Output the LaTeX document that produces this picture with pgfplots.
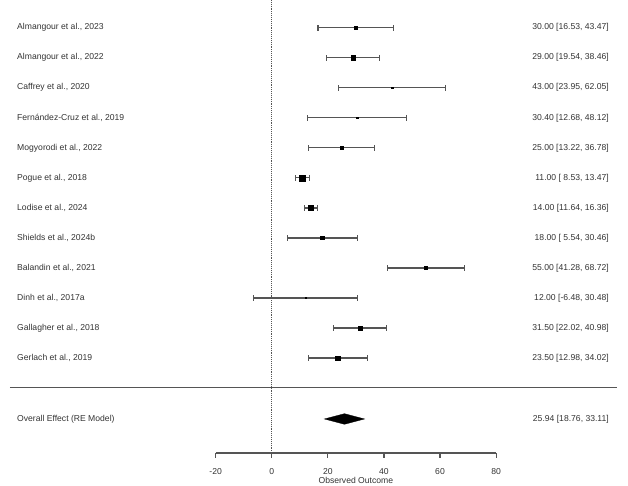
\documentclass[border=0pt]{standalone}
\usepackage{fontspec}
\setmainfont{Liberation Sans}
\usepackage{pgfplots}
\pgfplotsset{compat=1.18}
\usepackage{pgfplotstable}
\definecolor{txt}{HTML}{333333}
\definecolor{ln}{HTML}{555555}
\newcommand\f{\fontsize{8.6pt}{10pt}\selectfont}

\pgfplotstableread{
row est lo hi
1  30.00 16.53 43.47
2  29.00 19.54 38.46
3  43.00 23.95 62.05
4  30.40 12.68 48.12
5  25.00 13.22 36.78
6  11.00 8.53 13.47
7  14.00 11.64 16.36
8  18.00 5.54 30.46
9  55.00 41.28 68.72
10 12.00 -6.48 30.48
11 31.50 22.02 40.98
12 23.50 12.98 34.02
}\studies

\begin{document}
\begin{tikzpicture}[font=\f]
\useasboundingbox (0,0) rectangle (628pt,486pt);
\begin{axis}[
  at={(0,33pt)}, anchor=south west,
  scale only axis, width=628pt, height=453pt,
  xmin=-96.86, xmax=127.02,
  ymin=0.0776, ymax=15.163, y dir=reverse,
  axis x line=bottom, axis y line=none,
  x axis line style={draw=none},
  xtick={-20,0,20,40,60,80},
  xticklabels={-20,0,20,40,60,80},
  tick align=outside, major tick length=4.5pt,
  major tick style={draw=ln, line width=1.2pt},
  xticklabel style={font=\f, text=txt, yshift=-7pt},
  /pgf/number format/assume math mode=true,
  clip=false,
]
% reference line
\addplot[ln, densely dotted, line width=0.9pt] coordinates {(0,0.0776) (0,15.163)};
% separator
\addplot[ln, line width=1.4pt] coordinates {(-93.3,12.99) (123.1,12.99)};
% bottom axis line
\addplot[ln, line width=1.3pt] coordinates {(-20,15.163) (80,15.163)};
% CIs
\addplot[draw=none, mark=none, error bars/.cd, x dir=both, x explicit,
  error bar style={ln, line width=1.3pt}, error mark=|, error mark options={ln, line width=1.2pt, mark size=2.9pt}]
  table[x=est, y=row, x error expr={(\thisrow{hi}-\thisrow{lo})/2}] {\studies};
% squares (size ~ study weight)
\pgfplotsset{sq/.style={only marks, mark=square*, mark options={draw=none, fill=black}}}
\addplot[sq, mark size=1.7pt] coordinates {(30.00,1)};
\addplot[sq, mark size=2.2pt] coordinates {(29.00,2)};
\addplot[sq, mark size=0.7pt] coordinates {(43.00,3)};
\addplot[sq, mark size=0.8pt] coordinates {(30.40,4)};
\addplot[sq, mark size=1.6pt] coordinates {(25.00,5)};
\addplot[sq, mark size=2.9pt] coordinates {(11.00,6)};
\addplot[sq, mark size=2.6pt] coordinates {(14.00,7)};
\addplot[sq, mark size=1.6pt] coordinates {(18.00,8)};
\addplot[sq, mark size=1.4pt] coordinates {(55.00,9)};
\addplot[sq, mark size=0.65pt] coordinates {(12.00,10)};
\addplot[sq, mark size=2.1pt] coordinates {(31.50,11)};
\addplot[sq, mark size=2.1pt] coordinates {(23.50,12)};
% diamond
\addplot[fill=black, draw=black, line width=0.3pt] coordinates {(18.76,14.03) (25.94,13.853) (33.11,14.03) (25.94,14.207)} -- cycle;
% labels
\begin{scope}[text=txt, every node/.style={inner sep=0pt}]
\node[anchor=west] at (axis cs:-90.8,1) {Almangour et al., 2023};
\node[anchor=west] at (axis cs:-90.8,2) {Almangour et al., 2022};
\node[anchor=west] at (axis cs:-90.8,3) {Caffrey et al., 2020};
\node[anchor=west] at (axis cs:-90.8,4) {Fernández-Cruz et al., 2019};
\node[anchor=west] at (axis cs:-90.8,5) {Mogyorodi et al., 2022};
\node[anchor=west] at (axis cs:-90.8,6) {Pogue et al., 2018};
\node[anchor=west] at (axis cs:-90.8,7) {Lodise et al., 2024};
\node[anchor=west] at (axis cs:-90.8,8) {Shields et al., 2024b};
\node[anchor=west] at (axis cs:-90.8,9) {Balandin et al., 2021};
\node[anchor=west] at (axis cs:-90.8,10) {Dinh et al., 2017a};
\node[anchor=west] at (axis cs:-90.8,11) {Gallagher et al., 2018};
\node[anchor=west] at (axis cs:-90.8,12) {Gerlach et al., 2019};
\node[anchor=west] at (axis cs:-90.8,14.03) {Overall Effect (RE Model)};
\node[anchor=east] at (axis cs:120.25,1) {30.00 [16.53, 43.47]};
\node[anchor=east] at (axis cs:120.25,2) {29.00 [19.54, 38.46]};
\node[anchor=east] at (axis cs:120.25,3) {43.00 [23.95, 62.05]};
\node[anchor=east] at (axis cs:120.25,4) {30.40 [12.68, 48.12]};
\node[anchor=east] at (axis cs:120.25,5) {25.00 [13.22, 36.78]};
\node[anchor=east] at (axis cs:120.25,6) {11.00 [ 8.53, 13.47]};
\node[anchor=east] at (axis cs:120.25,7) {14.00 [11.64, 16.36]};
\node[anchor=east] at (axis cs:120.25,8) {18.00 [ 5.54, 30.46]};
\node[anchor=east] at (axis cs:120.25,9) {55.00 [41.28, 68.72]};
\node[anchor=east] at (axis cs:120.25,10) {12.00 [-6.48, 30.48]};
\node[anchor=east] at (axis cs:120.25,11) {31.50 [22.02, 40.98]};
\node[anchor=east] at (axis cs:120.25,12) {23.50 [12.98, 34.02]};
\node[anchor=east] at (axis cs:120.25,14.03) {25.94 [18.76, 33.11]};
\node[anchor=north] at (axis cs:30,15.98) {Observed Outcome};
\end{scope}
\end{axis}
\end{tikzpicture}
\end{document}
